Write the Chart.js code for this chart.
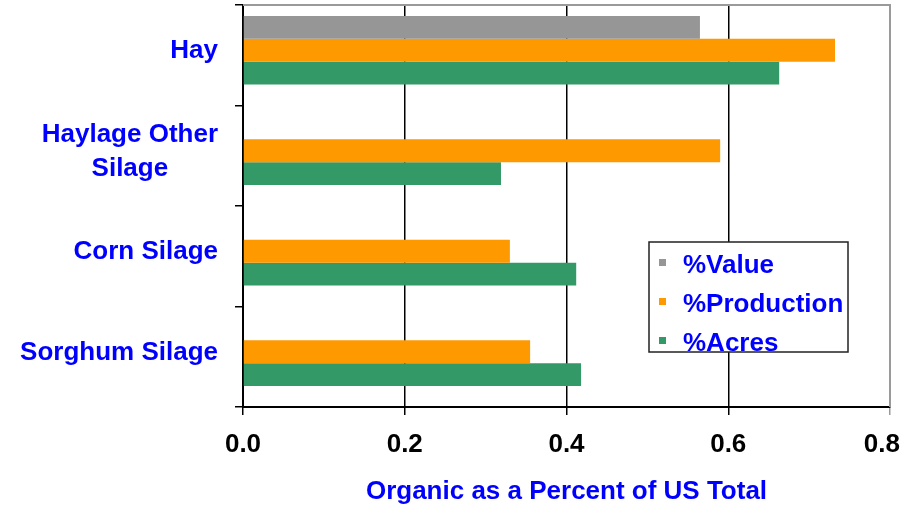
<!DOCTYPE html>
<html>
<head>
<meta charset="utf-8">
<script src="https://cdn.jsdelivr.net/npm/chart.js@4"></script>
<style>
  html, body { margin: 0; padding: 0; background: #fff; }
  #wrap { width: 908px; height: 508px; }
</style>
</head>
<body>
<div id="wrap"><canvas id="organic" width="908" height="508"></canvas></div>
<script>
// categories and series
const categories = ['Hay', ['Haylage Other', 'Silage'], 'Corn Silage', 'Sorghum Silage'];
const pctValue = [0.565, null, null, null];
const pctProduction = [0.732, 0.59, 0.33, 0.355];
const pctAcres = [0.663, 0.319, 0.412, 0.418];
const xTicks = [0, 0.2, 0.4, 0.6, 0.8];

const BLUE = '#0000FF';
const FONT = 'Liberation Sans, Arial, sans-serif';
const BOLD26 = 'bold 26px ' + FONT;

// axis labels drawn by hand (excel keeps the last x label inside the page,
// and centres the lines of a two-line category inside its own block)
const axisLabels = {
  id: 'axisLabels',
  afterDraw(chart) {
    const ctx = chart.ctx;
    const ys = chart.scales.y;
    const xs = chart.scales.x;
    ctx.save();
    ctx.font = BOLD26;
    ctx.textAlign = 'center';
    ctx.textBaseline = 'middle';

    ctx.fillStyle = BLUE;
    categories.forEach((lab, i) => {
      const lines = Array.isArray(lab) ? lab : [lab];
      const w = Math.max(...lines.map(l => ctx.measureText(l).width));
      const cx = 218 - w / 2;
      const cy = ys.getPixelForTick(i) - 4;
      const lh = 34;
      lines.forEach((l, k) => {
        ctx.fillText(l, cx, cy + (k - (lines.length - 1) / 2) * lh);
      });
    });

    ctx.fillStyle = '#000';
    xTicks.forEach(v => {
      const txt = v.toFixed(1);
      const w = ctx.measureText(txt).width;
      const x = Math.min(xs.getPixelForValue(v), 900 - w / 2);
      ctx.fillText(txt, x, xs.top + 38);
    });
    ctx.restore();
  }
};

// gray frame top/right, bar group nudged up like excel does, legend box
const frameAndLegend = {
  id: 'frameAndLegend',
  beforeDatasetsDraw(chart) {
    const { ctx, chartArea: a } = chart;
    ctx.save();
    ctx.strokeStyle = '#9a9a9a';
    ctx.lineWidth = 2;
    ctx.beginPath();
    ctx.moveTo(a.left, a.top);
    ctx.lineTo(a.right, a.top);
    ctx.lineTo(a.right, a.bottom);
    ctx.stroke();
    ctx.restore();
    ctx.save();
    ctx.translate(0, -5);
  },
  afterDatasetsDraw(chart) {
    chart.ctx.restore();
  },
  afterDraw(chart) {
    const ctx = chart.ctx;
    ctx.save();
    ctx.fillStyle = '#fff';
    ctx.fillRect(649, 242, 199, 110);
    ctx.strokeStyle = '#222';
    ctx.lineWidth = 1.5;
    ctx.strokeRect(649, 242, 199, 110);
    ctx.font = BOLD26;
    ctx.textBaseline = 'middle';
    const rows = [266, 305, 344];
    chart.data.datasets.forEach((ds, i) => {
      ctx.fillStyle = ds.backgroundColor;
      ctx.fillRect(659, rows[i] - 7, 7, 7);
      ctx.fillStyle = BLUE;
      ctx.fillText(ds.label, 683, rows[i]);
    });
    ctx.restore();
  }
};

const ctx = document.getElementById('organic').getContext('2d');
new Chart(ctx, {
  type: 'bar',
  data: {
    labels: categories,
    datasets: [
      { label: '%Value', data: pctValue, backgroundColor: '#969696' },
      { label: '%Production', data: pctProduction, backgroundColor: '#FF9900' },
      { label: '%Acres', data: pctAcres, backgroundColor: '#339966' },
    ],
  },
  options: {
    indexAxis: 'y',
    responsive: false,
    animation: false,
    layout: { padding: { top: 5, right: 18, left: 0, bottom: 0 } },
    datasets: { bar: { categoryPercentage: 0.68, barPercentage: 1.0, borderWidth: 0 } },
    scales: {
      x: {
        min: 0,
        max: 0.8,
        afterBuildTicks: s => { s.ticks = xTicks.map(v => ({ value: v })); },
        afterFit: s => { s.height = 101; },
        ticks: { display: false },
        grid: {
          color: c => (c.index === xTicks.length - 1 ? '#9a9a9a' : '#000'),
          lineWidth: 1.5,
          tickLength: 8,
        },
        border: { display: true, color: '#000', width: 2 },
        title: {
          display: true,
          text: 'Organic as a Percent of US Total',
          color: BLUE,
          font: { family: FONT, size: 26, weight: 'bold' },
          padding: { top: 0, bottom: 1 },
        },
      },
      y: {
        afterFit: s => { s.width = 243; },
        ticks: { display: false },
        grid: { drawOnChartArea: false, color: '#000', tickLength: 8, lineWidth: 1.5 },
        border: { display: true, color: '#000', width: 2 },
      },
    },
    plugins: {
      legend: { display: false },
      tooltip: { enabled: false },
    },
  },
  plugins: [axisLabels, frameAndLegend],
});
</script>
</body>
</html>
